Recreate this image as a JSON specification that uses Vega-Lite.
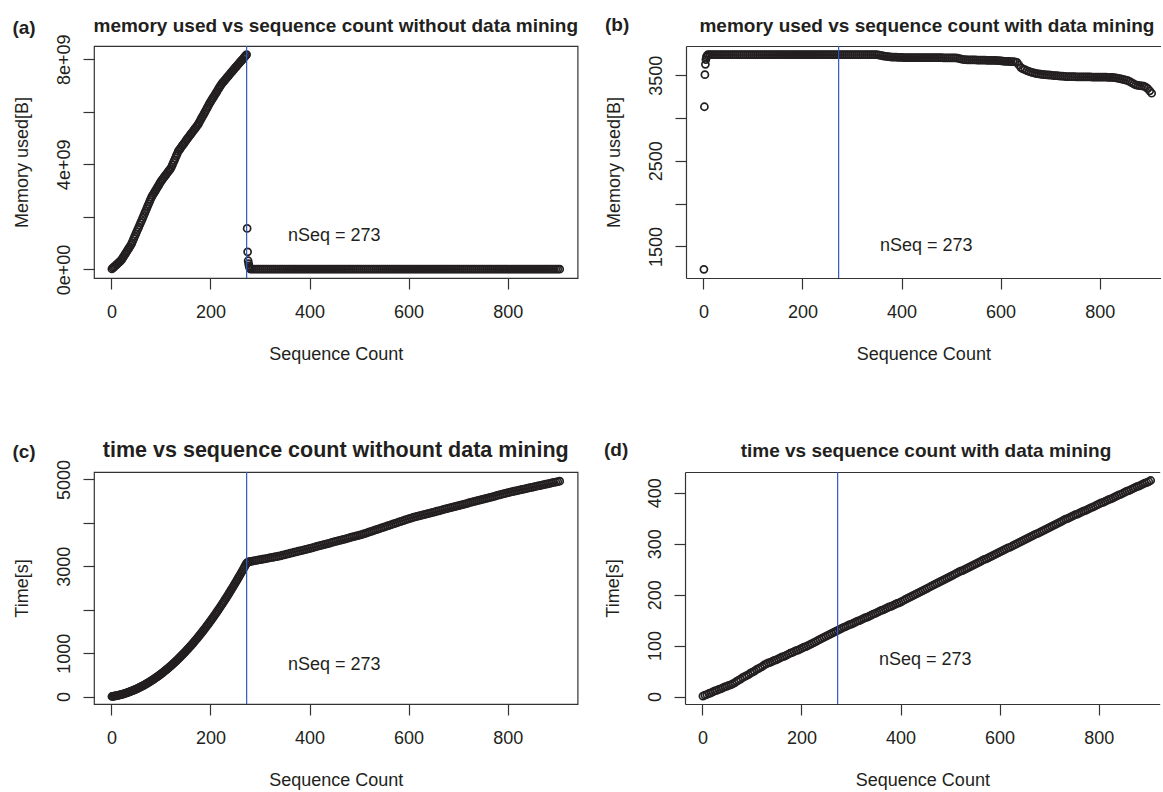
{
"$schema": "https://vega.github.io/schema/vega-lite/v6.json",
"background": "white",
"padding": {"left": 12, "top": 16, "right": 0, "bottom": 0},
"data": {"values": [
{"n":1,"a":2e7,"b":1232,"c":2,"d":1},
{"n":2,"b":3132},
{"n":3,"a":5.5e7,"b":3507,"c":5},
{"n":4,"b":3628},
{"n":5,"a":9e7,"b":3683,"c":9,"d":3},
{"n":6,"b":3712},
{"n":7,"a":1.24e8,"b":3728,"c":14},
{"n":9,"a":1.59e8,"b":3740,"c":18,"d":4},
{"n":11,"a":1.94e8,"c":23},
{"n":13,"a":2.28e8,"b":3740,"c":28,"d":6},
{"n":15,"a":2.63e8,"c":33},
{"n":17,"a":2.98e8,"b":3740,"c":39,"d":7},
{"n":19,"a":3.33e8,"c":45},
{"n":21,"a":3.8e8,"b":3740,"c":51,"d":9},
{"n":23,"a":4.4e8,"c":58},
{"n":25,"a":5e8,"b":3740,"c":64,"d":11},
{"n":27,"a":5.6e8,"c":71},
{"n":29,"a":6.2e8,"b":3740,"c":79,"d":12},
{"n":31,"a":6.8e8,"c":86},
{"n":33,"a":7.4e8,"b":3740,"c":94,"d":14},
{"n":35,"a":8e8,"c":102},
{"n":37,"a":8.6e8,"b":3740,"c":111,"d":15},
{"n":39,"a":9.2e8,"c":120},
{"n":41,"a":9.9e8,"b":3740,"c":129,"d":17},
{"n":43,"a":1.08e9,"c":138},
{"n":45,"a":1.17e9,"b":3740,"c":147,"d":19},
{"n":47,"a":1.26e9,"c":157},
{"n":49,"a":1.34e9,"b":3740,"c":167,"d":20},
{"n":51,"a":1.43e9,"c":178},
{"n":53,"a":1.52e9,"b":3740,"c":188,"d":22},
{"n":55,"a":1.6e9,"c":199},
{"n":57,"a":1.69e9,"b":3740,"c":211,"d":23},
{"n":59,"a":1.78e9,"c":222},
{"n":61,"a":1.86e9,"b":3740,"c":234,"d":25},
{"n":63,"a":1.95e9,"c":246},
{"n":65,"a":2.04e9,"b":3740,"c":258,"d":27},
{"n":67,"a":2.13e9,"c":271},
{"n":69,"a":2.22e9,"b":3740,"c":284,"d":30},
{"n":71,"a":2.31e9,"c":297},
{"n":73,"a":2.4e9,"b":3740,"c":311,"d":32},
{"n":75,"a":2.49e9,"c":324},
{"n":77,"a":2.58e9,"b":3740,"c":338,"d":34},
{"n":79,"a":2.67e9,"c":353},
{"n":81,"a":2.75e9,"b":3740,"c":367,"d":37},
{"n":83,"a":2.82e9,"c":382},
{"n":85,"a":2.88e9,"b":3740,"c":397,"d":39},
{"n":87,"a":2.94e9,"c":413},
{"n":89,"a":3e9,"b":3740,"c":429,"d":41},
{"n":91,"a":3.07e9,"c":445},
{"n":93,"a":3.13e9,"b":3740,"c":461,"d":43},
{"n":95,"a":3.19e9,"c":477},
{"n":97,"a":3.26e9,"b":3740,"c":494,"d":46},
{"n":99,"a":3.32e9,"c":511},
{"n":101,"a":3.38e9,"b":3740,"c":529,"d":48},
{"n":103,"a":3.43e9,"c":546},
{"n":105,"a":3.48e9,"b":3740,"c":564,"d":50},
{"n":107,"a":3.53e9,"c":583},
{"n":109,"a":3.58e9,"b":3740,"c":601,"d":53},
{"n":111,"a":3.63e9,"c":620},
{"n":113,"a":3.68e9,"b":3740,"c":639,"d":55},
{"n":115,"a":3.73e9,"c":658},
{"n":117,"a":3.78e9,"b":3740,"c":678,"d":57},
{"n":119,"a":3.83e9,"c":698},
{"n":121,"a":3.89e9,"b":3740,"c":718,"d":59},
{"n":123,"a":3.98e9,"c":739},
{"n":125,"a":4.07e9,"b":3740,"c":759,"d":62},
{"n":127,"a":4.15e9,"c":780},
{"n":129,"a":4.24e9,"b":3740,"c":802,"d":64},
{"n":131,"a":4.33e9,"c":823},
{"n":133,"a":4.41e9,"b":3740,"c":845,"d":66},
{"n":135,"a":4.5e9,"c":867},
{"n":137,"a":4.55e9,"b":3740,"c":890,"d":67},
{"n":139,"a":4.6e9,"c":912},
{"n":141,"a":4.66e9,"b":3740,"c":936,"d":69},
{"n":143,"a":4.71e9,"c":959},
{"n":145,"a":4.76e9,"b":3740,"c":982,"d":71},
{"n":147,"a":4.81e9,"c":1006},
{"n":149,"a":4.86e9,"b":3740,"c":1030,"d":72},
{"n":151,"a":4.92e9,"c":1055},
{"n":153,"a":4.97e9,"b":3740,"c":1079,"d":74},
{"n":155,"a":5.02e9,"c":1104},
{"n":157,"a":5.07e9,"b":3740,"c":1130,"d":76},
{"n":159,"a":5.12e9,"c":1155},
{"n":161,"a":5.17e9,"b":3740,"c":1181,"d":78},
{"n":163,"a":5.22e9,"c":1207},
{"n":165,"a":5.27e9,"b":3740,"c":1233,"d":79},
{"n":167,"a":5.32e9,"c":1260},
{"n":169,"a":5.37e9,"b":3740,"c":1287,"d":81},
{"n":171,"a":5.42e9,"c":1314},
{"n":173,"a":5.47e9,"b":3740,"c":1342,"d":83},
{"n":175,"a":5.52e9,"c":1369},
{"n":177,"a":5.59e9,"b":3740,"c":1397,"d":85},
{"n":179,"a":5.66e9,"c":1426},
{"n":181,"a":5.73e9,"b":3740,"c":1454,"d":86},
{"n":183,"a":5.8e9,"c":1483},
{"n":185,"a":5.86e9,"b":3740,"c":1512,"d":88},
{"n":187,"a":5.93e9,"c":1542},
{"n":189,"a":6e9,"b":3740,"c":1572,"d":90},
{"n":191,"a":6.07e9,"c":1602},
{"n":193,"a":6.14e9,"b":3740,"c":1632,"d":91},
{"n":195,"a":6.21e9,"c":1662},
{"n":197,"a":6.28e9,"b":3740,"c":1693,"d":93},
{"n":199,"a":6.35e9,"c":1724},
{"n":201,"a":6.41e9,"b":3740,"c":1756,"d":95},
{"n":203,"a":6.47e9,"c":1787},
{"n":205,"a":6.53e9,"b":3740,"c":1819,"d":97},
{"n":207,"a":6.59e9,"c":1852},
{"n":209,"a":6.65e9,"b":3740,"c":1884,"d":98},
{"n":211,"a":6.71e9,"c":1917},
{"n":213,"a":6.77e9,"b":3740,"c":1950,"d":100},
{"n":215,"a":6.84e9,"c":1983},
{"n":217,"a":6.9e9,"b":3740,"c":2017,"d":102},
{"n":219,"a":6.96e9,"c":2051},
{"n":221,"a":7.02e9,"b":3740,"c":2085,"d":104},
{"n":223,"a":7.07e9,"c":2120},
{"n":225,"a":7.12e9,"b":3740,"c":2154,"d":106},
{"n":227,"a":7.16e9,"c":2189},
{"n":229,"a":7.21e9,"b":3740,"c":2225,"d":108},
{"n":231,"a":7.25e9,"c":2260},
{"n":233,"a":7.3e9,"b":3740,"c":2296,"d":110},
{"n":235,"a":7.34e9,"c":2332},
{"n":237,"a":7.39e9,"b":3740,"c":2369,"d":112},
{"n":239,"a":7.43e9,"c":2406},
{"n":241,"a":7.48e9,"b":3740,"c":2443,"d":114},
{"n":243,"a":7.52e9,"c":2480},
{"n":245,"a":7.57e9,"b":3740,"c":2517,"d":116},
{"n":247,"a":7.61e9,"c":2555},
{"n":249,"a":7.66e9,"b":3740,"c":2593,"d":118},
{"n":251,"a":7.7e9,"c":2632},
{"n":253,"a":7.74e9,"b":3740,"c":2670,"d":120},
{"n":255,"a":7.79e9,"c":2709},
{"n":257,"a":7.83e9,"b":3740,"c":2749,"d":122},
{"n":259,"a":7.87e9,"c":2788},
{"n":261,"a":7.92e9,"b":3740,"c":2828,"d":124},
{"n":263,"a":7.96e9,"c":2868},
{"n":265,"a":8e9,"b":3740,"c":2908,"d":126},
{"n":267,"a":8.05e9,"c":2949},
{"n":269,"a":8.09e9,"b":3740,"c":2990,"d":128},
{"n":271,"a":8.14e9,"c":3031},
{"n":273,"a":8.18e9,"b":3740,"c":3073,"d":130},
{"n":274,"a":1.56e9},
{"n":275,"a":6.7e8,"c":3088},
{"n":276,"a":3.3e8},
{"n":277,"a":2.2e8,"b":3740,"c":3100,"d":132},
{"n":278,"a":1.3e8},
{"n":279,"a":7e7,"c":3106},
{"n":280,"a":3e7},
{"n":281,"a":1e7,"b":3740,"c":3110,"d":134},
{"n":285,"a":1e7,"b":3740,"c":3119,"d":136},
{"n":289,"a":1e7,"b":3740,"c":3128,"d":137},
{"n":293,"a":1e7,"b":3740,"c":3136,"d":139},
{"n":297,"a":1e7,"b":3740,"c":3145,"d":141},
{"n":301,"a":1e7,"b":3740,"c":3154,"d":142},
{"n":305,"a":1e7,"b":3740,"c":3162,"d":144},
{"n":309,"a":1e7,"b":3740,"c":3171,"d":146},
{"n":313,"a":1e7,"b":3740,"c":3179,"d":148},
{"n":317,"a":1e7,"b":3740,"c":3188,"d":149},
{"n":321,"a":1e7,"b":3740,"c":3197,"d":151},
{"n":325,"a":1e7,"b":3740,"c":3205,"d":153},
{"n":329,"a":1e7,"b":3740,"c":3214,"d":155},
{"n":333,"a":1e7,"b":3740,"c":3222,"d":156},
{"n":337,"a":1e7,"b":3740,"c":3231,"d":158},
{"n":341,"a":1e7,"b":3740,"c":3242,"d":160},
{"n":345,"a":1e7,"b":3740,"c":3254,"d":162},
{"n":349,"a":1e7,"b":3740,"c":3265,"d":163},
{"n":353,"a":1e7,"b":3738,"c":3277,"d":165},
{"n":357,"a":1e7,"b":3733,"c":3288,"d":167},
{"n":361,"a":1e7,"b":3728,"c":3300,"d":169},
{"n":365,"a":1e7,"b":3724,"c":3311,"d":170},
{"n":369,"a":1e7,"b":3720,"c":3323,"d":172},
{"n":373,"a":1e7,"b":3717,"c":3334,"d":174},
{"n":377,"a":1e7,"b":3715,"c":3346,"d":176},
{"n":381,"a":1e7,"b":3713,"c":3357,"d":177},
{"n":385,"a":1e7,"b":3712,"c":3368,"d":179},
{"n":389,"a":1e7,"b":3711,"c":3380,"d":181},
{"n":393,"a":1e7,"b":3710,"c":3391,"d":183},
{"n":397,"a":1e7,"b":3710,"c":3403,"d":184},
{"n":401,"a":1e7,"b":3708,"c":3414,"d":186},
{"n":405,"a":1e7,"b":3707,"c":3426,"d":188},
{"n":409,"a":1e7,"b":3707,"c":3438,"d":190},
{"n":413,"a":1e7,"b":3707,"c":3450,"d":192},
{"n":417,"a":1e7,"b":3707,"c":3463,"d":194},
{"n":421,"a":1e7,"b":3707,"c":3475,"d":196},
{"n":425,"a":1e7,"b":3707,"c":3487,"d":198},
{"n":429,"a":1e7,"b":3707,"c":3499,"d":200},
{"n":433,"a":1e7,"b":3707,"c":3511,"d":202},
{"n":437,"a":1e7,"b":3707,"c":3523,"d":204},
{"n":441,"a":1e7,"b":3707,"c":3535,"d":206},
{"n":445,"a":1e7,"b":3706,"c":3548,"d":208},
{"n":449,"a":1e7,"b":3706,"c":3560,"d":210},
{"n":453,"a":1e7,"b":3706,"c":3572,"d":212},
{"n":457,"a":1e7,"b":3706,"c":3584,"d":214},
{"n":461,"a":1e7,"b":3706,"c":3596,"d":216},
{"n":465,"a":1e7,"b":3706,"c":3608,"d":218},
{"n":469,"a":1e7,"b":3706,"c":3621,"d":220},
{"n":473,"a":1e7,"b":3706,"c":3633,"d":222},
{"n":477,"a":1e7,"b":3706,"c":3645,"d":224},
{"n":481,"a":1e7,"b":3706,"c":3657,"d":226},
{"n":485,"a":1e7,"b":3704,"c":3669,"d":228},
{"n":489,"a":1e7,"b":3704,"c":3681,"d":230},
{"n":493,"a":1e7,"b":3704,"c":3693,"d":232},
{"n":497,"a":1e7,"b":3704,"c":3706,"d":234},
{"n":501,"a":1e7,"b":3704,"c":3718,"d":236},
{"n":505,"a":1e7,"b":3704,"c":3730,"d":238},
{"n":509,"a":1e7,"b":3704,"c":3745,"d":240},
{"n":513,"a":1e7,"b":3700,"c":3760,"d":242},
{"n":517,"a":1e7,"b":3694,"c":3776,"d":244},
{"n":521,"a":1e7,"b":3688,"c":3791,"d":246},
{"n":525,"a":1e7,"b":3684,"c":3806,"d":247},
{"n":529,"a":1e7,"b":3682,"c":3821,"d":249},
{"n":533,"a":1e7,"b":3681,"c":3837,"d":251},
{"n":537,"a":1e7,"b":3680,"c":3852,"d":253},
{"n":541,"a":1e7,"b":3680,"c":3867,"d":255},
{"n":545,"a":1e7,"b":3679,"c":3882,"d":257},
{"n":549,"a":1e7,"b":3679,"c":3898,"d":259},
{"n":553,"a":1e7,"b":3678,"c":3913,"d":261},
{"n":557,"a":1e7,"b":3678,"c":3928,"d":263},
{"n":561,"a":1e7,"b":3677,"c":3943,"d":265},
{"n":565,"a":1e7,"b":3676,"c":3959,"d":267},
{"n":569,"a":1e7,"b":3676,"c":3974,"d":269},
{"n":573,"a":1e7,"b":3675,"c":3989,"d":270},
{"n":577,"a":1e7,"b":3675,"c":4005,"d":272},
{"n":581,"a":1e7,"b":3674,"c":4020,"d":274},
{"n":585,"a":1e7,"b":3674,"c":4035,"d":276},
{"n":589,"a":1e7,"b":3673,"c":4050,"d":278},
{"n":593,"a":1e7,"b":3672,"c":4066,"d":280},
{"n":597,"a":1e7,"b":3671,"c":4081,"d":282},
{"n":601,"a":1e7,"b":3668,"c":4096,"d":284},
{"n":605,"a":1e7,"b":3665,"c":4111,"d":286},
{"n":609,"a":1e7,"b":3663,"c":4124,"d":288},
{"n":613,"a":1e7,"b":3662,"c":4136,"d":290},
{"n":617,"a":1e7,"b":3661,"c":4148,"d":292},
{"n":621,"a":1e7,"b":3660,"c":4160,"d":293},
{"n":625,"a":1e7,"b":3659,"c":4171,"d":295},
{"n":629,"a":1e7,"b":3657,"c":4183,"d":297},
{"n":633,"a":1e7,"b":3650,"c":4195,"d":299},
{"n":637,"a":1e7,"b":3620,"c":4207,"d":301},
{"n":641,"a":1e7,"b":3590,"c":4219,"d":303},
{"n":645,"a":1e7,"b":3575,"c":4231,"d":305},
{"n":649,"a":1e7,"b":3565,"c":4243,"d":307},
{"n":653,"a":1e7,"b":3555,"c":4255,"d":309},
{"n":657,"a":1e7,"b":3545,"c":4267,"d":311},
{"n":661,"a":1e7,"b":3538,"c":4278,"d":313},
{"n":665,"a":1e7,"b":3531,"c":4290,"d":315},
{"n":669,"a":1e7,"b":3525,"c":4302,"d":317},
{"n":673,"a":1e7,"b":3520,"c":4314,"d":319},
{"n":677,"a":1e7,"b":3515,"c":4326,"d":320},
{"n":681,"a":1e7,"b":3512,"c":4338,"d":322},
{"n":685,"a":1e7,"b":3509,"c":4350,"d":324},
{"n":689,"a":1e7,"b":3507,"c":4362,"d":326},
{"n":693,"a":1e7,"b":3505,"c":4373,"d":328},
{"n":697,"a":1e7,"b":3503,"c":4385,"d":330},
{"n":701,"a":1e7,"b":3501,"c":4397,"d":332},
{"n":705,"a":1e7,"b":3499,"c":4409,"d":334},
{"n":709,"a":1e7,"b":3497,"c":4421,"d":336},
{"n":713,"a":1e7,"b":3495,"c":4433,"d":338},
{"n":717,"a":1e7,"b":3493,"c":4445,"d":340},
{"n":721,"a":1e7,"b":3491,"c":4457,"d":342},
{"n":725,"a":1e7,"b":3489,"c":4469,"d":344},
{"n":729,"a":1e7,"b":3487,"c":4481,"d":346},
{"n":733,"a":1e7,"b":3485,"c":4493,"d":348},
{"n":737,"a":1e7,"b":3484,"c":4504,"d":349},
{"n":741,"a":1e7,"b":3484,"c":4516,"d":351},
{"n":745,"a":1e7,"b":3483,"c":4528,"d":353},
{"n":749,"a":1e7,"b":3483,"c":4540,"d":355},
{"n":753,"a":1e7,"b":3482,"c":4552,"d":357},
{"n":757,"a":1e7,"b":3482,"c":4564,"d":358},
{"n":761,"a":1e7,"b":3481,"c":4576,"d":360},
{"n":765,"a":1e7,"b":3481,"c":4588,"d":362},
{"n":769,"a":1e7,"b":3481,"c":4600,"d":364},
{"n":773,"a":1e7,"b":3480,"c":4612,"d":365},
{"n":777,"a":1e7,"b":3480,"c":4624,"d":367},
{"n":781,"a":1e7,"b":3480,"c":4636,"d":369},
{"n":785,"a":1e7,"b":3479,"c":4647,"d":371},
{"n":789,"a":1e7,"b":3479,"c":4659,"d":372},
{"n":793,"a":1e7,"b":3479,"c":4671,"d":374},
{"n":797,"a":1e7,"b":3478,"c":4683,"d":376},
{"n":801,"a":1e7,"b":3478,"c":4695,"d":378},
{"n":805,"a":1e7,"b":3478,"c":4706,"d":380},
{"n":809,"a":1e7,"b":3477,"c":4718,"d":381},
{"n":813,"a":1e7,"b":3477,"c":4728,"d":383},
{"n":817,"a":1e7,"b":3476,"c":4738,"d":385},
{"n":821,"a":1e7,"b":3476,"c":4748,"d":387},
{"n":825,"a":1e7,"b":3475,"c":4758,"d":388},
{"n":829,"a":1e7,"b":3472,"c":4768,"d":390},
{"n":833,"a":1e7,"b":3469,"c":4778,"d":392},
{"n":837,"a":1e7,"b":3465,"c":4788,"d":394},
{"n":841,"a":1e7,"b":3460,"c":4799,"d":396},
{"n":845,"a":1e7,"b":3455,"c":4809,"d":397},
{"n":849,"a":1e7,"b":3449,"c":4819,"d":399},
{"n":853,"a":1e7,"b":3443,"c":4829,"d":401},
{"n":857,"a":1e7,"b":3436,"c":4839,"d":403},
{"n":861,"a":1e7,"b":3425,"c":4849,"d":404},
{"n":865,"a":1e7,"b":3410,"c":4859,"d":406},
{"n":869,"a":1e7,"b":3398,"c":4869,"d":408},
{"n":873,"a":1e7,"b":3388,"c":4879,"d":410},
{"n":877,"a":1e7,"b":3382,"c":4889,"d":412},
{"n":881,"a":1e7,"b":3379,"c":4899,"d":413},
{"n":885,"a":1e7,"b":3376,"c":4909,"d":415},
{"n":889,"a":1e7,"b":3372,"c":4920,"d":417},
{"n":893,"a":1e7,"b":3362,"c":4930,"d":419},
{"n":897,"a":1e7,"b":3345,"c":4940,"d":420},
{"n":901,"a":1e7,"b":3318,"c":4950,"d":422},
{"n":905,"a":1e7,"b":3290,"c":4960,"d":424}
]},
"spacing": 75,
"vconcat": [
{"hconcat": [
 {"title": {"text": "(a)", "anchor": "start", "frame": "bounds", "offset": -22},
  "vconcat": [{
   "width": 483.6, "height": 232,
   "title": {"text": "memory used vs sequence count without data mining", "offset": -2},
   "layer": [
    {"transform": [{"filter": "isValid(datum.a)"}],
     "mark": {"type": "point", "shape": "circle", "filled": false, "size": 50, "strokeWidth": 1.7, "color": "#231f20", "opacity": 1},
     "encoding": {
      "x": {"field": "n", "type": "quantitative", "title": "Sequence Count", "scale": {"domain": [-35.16, 941.16], "nice": false, "zero": false}, "axis": {"values": [0,200,400,600,800], "format": "d"}},
      "y": {"field": "a", "type": "quantitative", "title": "Memory used[B]", "scale": {"domain": [-3.27e8, 8.506e9], "nice": false, "zero": false}, "axis": {"values": [0,2e9,4e9,6e9,8e9], "labelExpr": "datum.value == 0 ? '0e+00' : datum.value == 4000000000 ? '4e+09' : datum.value == 8000000000 ? '8e+09' : ''"}}
     }},
    {"data": {"values": [{}]}, "mark": {"type": "rule", "color": "#3358c4", "strokeWidth": 1.2}, "encoding": {"x": {"datum": 273}}},
    {"data": {"values": [{}]}, "mark": {"type": "text", "fontSize": 18, "color": "#231f20", "align": "center", "baseline": "middle"}, "encoding": {"x": {"datum": 450}, "y": {"datum": 1.28e9}, "text": {"value": "nSeq = 273"}}}
   ]
  }]
 },
 {"title": {"text": "(b)", "anchor": "start", "frame": "bounds", "offset": -18},
  "vconcat": [{
   "width": 474.7, "height": 232,
   "view": {"stroke": null},
   "title": {"text": "memory used vs sequence count with data mining", "dx": 3.6, "offset": 9},
   "resolve": {"axis": {"x": "independent"}},
   "layer": [
    {"transform": [{"filter": "isValid(datum.b)"}],
     "mark": {"type": "point", "shape": "circle", "filled": false, "size": 50, "strokeWidth": 1.7, "color": "#231f20", "opacity": 1},
     "encoding": {
      "x": {"field": "n", "type": "quantitative", "title": "Sequence Count", "scale": {"domain": [-35.16, 923.2], "nice": false, "zero": false}, "axis": {"values": [0,200,400,600,800], "format": "d", "domain": true}},
      "y": {"field": "b", "type": "quantitative", "title": "Memory used[B]", "scale": {"domain": [1131, 3842], "nice": false, "zero": false}, "axis": {"values": [1500,2000,2500,3000,3500], "format": "d", "domain": true, "labelExpr": "datum.value == 2000 || datum.value == 3000 ? '' : datum.label"}}
     }},
    {"data": {"values": [{}]}, "mark": {"type": "rule", "color": "#3358c4", "strokeWidth": 1.2}, "encoding": {"x": {"datum": 273, "axis": {"orient": "top", "domain": true, "ticks": false, "labels": false, "title": null, "minExtent": 0, "maxExtent": 0}}}},
    {"data": {"values": [{}]}, "mark": {"type": "text", "fontSize": 18, "color": "#231f20", "align": "center", "baseline": "middle"}, "encoding": {"x": {"datum": 450, "axis": null}, "y": {"datum": 1508}, "text": {"value": "nSeq = 273"}}}
   ]
  }]
 }
], "spacing": 25},
{"hconcat": [
 {"title": {"text": "(c)", "anchor": "start", "frame": "bounds", "offset": -23},
  "vconcat": [{
   "width": 483.6, "height": 232,
   "title": {"text": "time vs sequence count withount data mining", "fontSize": 21.5, "offset": -2},
   "layer": [
    {"transform": [{"filter": "isValid(datum.c)"}],
     "mark": {"type": "point", "shape": "circle", "filled": false, "size": 50, "strokeWidth": 1.7, "color": "#231f20", "opacity": 1},
     "encoding": {
      "x": {"field": "n", "type": "quantitative", "title": "Sequence Count", "scale": {"domain": [-35.16, 941.16], "nice": false, "zero": false}, "axis": {"values": [0,200,400,600,800], "format": "d"}},
      "y": {"field": "c", "type": "quantitative", "title": "Time[s]", "scale": {"domain": [-171, 5171], "nice": false, "zero": false}, "axis": {"values": [0,1000,2000,3000,4000,5000], "format": "d", "labelExpr": "datum.value == 2000 || datum.value == 4000 ? '' : datum.label"}}
     }},
    {"data": {"values": [{}]}, "mark": {"type": "rule", "color": "#3358c4", "strokeWidth": 1.2}, "encoding": {"x": {"datum": 273}}},
    {"data": {"values": [{}]}, "mark": {"type": "text", "fontSize": 18, "color": "#231f20", "align": "center", "baseline": "middle"}, "encoding": {"x": {"datum": 450}, "y": {"datum": 730}, "text": {"value": "nSeq = 273"}}}
   ]
  }]
 },
 {"title": {"text": "(d)", "anchor": "start", "frame": "bounds", "offset": -18},
  "vconcat": [{
   "width": 474.7, "height": 232,
   "view": {"stroke": null},
   "title": {"text": "time vs sequence count with data mining", "dx": 3.6, "offset": 10.6},
   "resolve": {"axis": {"x": "independent"}},
   "layer": [
    {"transform": [{"filter": "isValid(datum.d)"}],
     "mark": {"type": "point", "shape": "circle", "filled": false, "size": 50, "strokeWidth": 1.7, "color": "#231f20", "opacity": 1},
     "encoding": {
      "x": {"field": "n", "type": "quantitative", "title": "Sequence Count", "scale": {"domain": [-35.16, 923.2], "nice": false, "zero": false}, "axis": {"values": [0,200,400,600,800], "format": "d", "domain": true}},
      "y": {"field": "d", "type": "quantitative", "title": "Time[s]", "scale": {"domain": [-14.6, 440.7], "nice": false, "zero": false}, "axis": {"values": [0,100,200,300,400], "format": "d", "domain": true}}
     }},
    {"data": {"values": [{}]}, "mark": {"type": "rule", "color": "#3358c4", "strokeWidth": 1.2}, "encoding": {"x": {"datum": 273, "axis": {"orient": "top", "domain": true, "ticks": false, "labels": false, "title": null, "minExtent": 0, "maxExtent": 0}}}},
    {"data": {"values": [{}]}, "mark": {"type": "text", "fontSize": 18, "color": "#231f20", "align": "center", "baseline": "middle"}, "encoding": {"x": {"datum": 450, "axis": null}, "y": {"datum": 72}, "text": {"value": "nSeq = 273"}}}
   ]
  }]
 }
], "spacing": 25}
],
"config": {
 "font": "Liberation Sans",
 "view": {"stroke": "#333333", "strokeWidth": 1.2},
 "axis": {"grid": false, "domain": false, "domainColor": "#333333", "domainWidth": 1.2, "tickColor": "#333333", "tickWidth": 1.2, "tickSize": 11, "labelFont": "Liberation Sans", "labelFontSize": 18, "labelColor": "#231f20", "titleFont": "Liberation Sans", "titleFontSize": 18, "titleFontWeight": "normal", "titleColor": "#231f20", "labelFlush": false, "labelOverlap": false},
 "axisX": {"labelPadding": 14, "titlePadding": 24, "labelAngle": 0},
 "axisY": {"labelAngle": -90, "labelAlign": "center", "labelBaseline": "bottom", "labelPadding": 10, "titlePadding": 24},
 "title": {"font": "Liberation Sans", "fontWeight": "bold", "color": "#231f20", "fontSize": 19, "anchor": "middle", "frame": "group", "baseline": "alphabetic", "offset": 15},
 "text": {"font": "Liberation Sans"}
}
}
